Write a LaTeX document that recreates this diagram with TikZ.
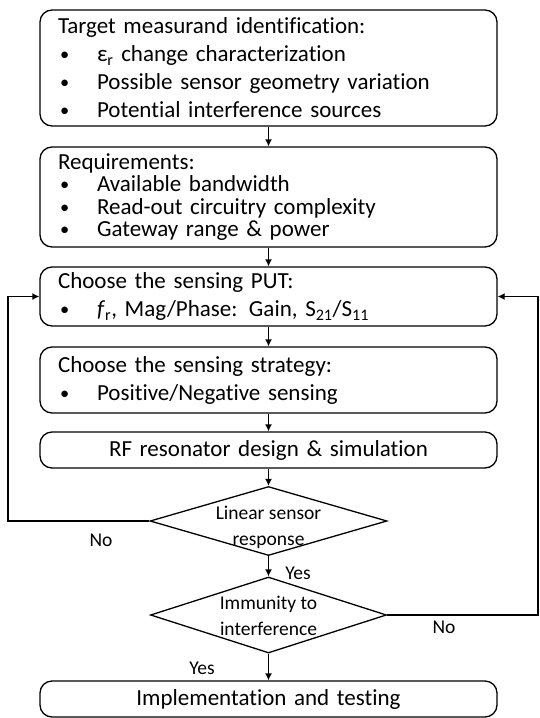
\documentclass[tikz,border=0pt]{standalone}
\usepackage{fontspec}
\setmainfont{Carlito}[Ligatures=NoCommon]
\usetikzlibrary{shapes.geometric,arrows.meta}

\newcommand{\itm}{\makebox[39pt][l]{\hspace{2pt}\raisebox{1pt}{\scalebox{0.8}{\textbullet}}}}

\begin{document}
\begin{tikzpicture}[x=1pt,y=-1pt,
        box/.style={draw,line width=1.3pt,rounded corners=12pt,minimum width=457pt,text width=421pt,
                    inner xsep=18pt,inner ysep=3pt,align=left,font=\fontsize{23}{28}\selectfont},
        decision/.style={draw,diamond,line width=1.3pt,inner sep=0pt,minimum width=237pt},
        arrow/.style={line width=1.3pt,-{Latex[length=7pt,width=7pt]}},
        lbl/.style={font=\fontsize{19.5}{26}\selectfont}]
        \useasboundingbox (0,0) rectangle (539,718);

        \node[box,minimum height=116pt] (meas) at (268.5,68) {Target measurand identification:\\
            \itm ε\textsubscript{r} change characterization\\
            \itm Possible sensor geometry variation\\
            \itm Potential interference sources};
        \node[box,minimum height=100pt,font=\fontsize{23}{22.3}\selectfont] (req) at (268.5,197) {Requirements:\\
            \itm Available bandwidth\\
            \itm Read-out circuitry complexity\\
            \itm Gateway range \& power};
        \node[box,minimum height=59pt] (put) at (268.5,296.5) {Choose the sensing PUT:\\
            \itm \textit{f}\textsubscript{r}, Mag/Phase: Gain, S\textsubscript{21}/S\textsubscript{11}};
        \node[box,minimum height=66pt] (strat) at (268.5,380) {Choose the sensing strategy:\\
            \itm Positive/Negative sensing};
        \node[box,minimum height=36pt,align=center] (rf) at (268.5,450) {RF resonator design \& simulation};
        \node[decision,minimum height=69pt,
              label={[lbl,align=center,yshift=-6pt]center:Linear sensor\\response}] (lin) at (268.5,521) {};
        \node[decision,minimum height=76pt,minimum width=236pt,
              label={[lbl,align=center,yshift=-1pt]center:Immunity to\\interference}] (imm) at (268.5,615) {};
        \node[box,minimum height=36pt,align=center] (impl) at (268.5,699) {Implementation and testing};

        \coordinate (lback) at (8,521);
        \coordinate (rback) at (538,615);

        \draw[arrow] (meas) -- (req);
        \draw[arrow] (req) -- (put);
        \draw[arrow] (put) -- (strat);
        \draw[arrow] (strat) -- (rf);
        \draw[arrow] (rf) -- (lin);
        \draw[arrow] (lin) -- (imm);
        \draw[arrow] (imm) -- (impl);
        \draw[arrow] (lin.west) -- (lback) |- (put.west);
        \draw[arrow] (imm.east) -- (rback) |- (put.east);

        \node[lbl] (no1) at (101,540) {No};
        \node[lbl] (yes1) at (298,573) {Yes};
        \node[lbl] (no2) at (444,627) {No};
        \node[lbl] (yes2) at (202,668) {Yes};
\end{tikzpicture}
\end{document}
